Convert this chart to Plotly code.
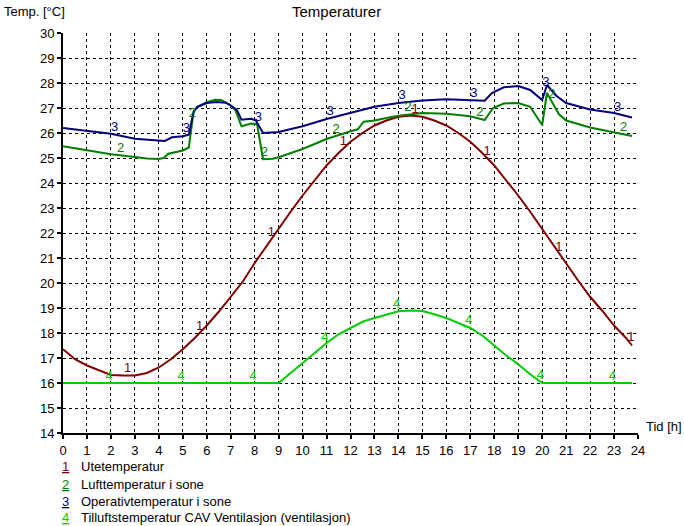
import numpy as np
import plotly.graph_objects as go

# ---------------- data ----------------
series_names = [
    "Utetemperatur",
    "Lufttemperatur i sone",
    "Operativtemperatur i sone",
    "Tilluftstemperatur CAV Ventilasjon (ventilasjon)",
]
series_ids = ["1", "2", "3", "4"]

t1 = [0, 0.5, 1, 1.5, 2, 2.5, 3, 3.5, 4, 4.5, 5, 5.5, 6, 6.5, 7, 7.5, 8, 8.5, 9, 9.5,
      10, 10.5, 11, 11.5, 12, 12.5, 13, 13.5, 14, 14.5, 15, 15.5, 16, 16.5, 17, 17.5,
      18, 18.5, 19, 19.5, 20, 20.5, 21, 21.5, 22, 22.5, 23, 23.5, 23.75]
ute = [17.35, 16.95, 16.7, 16.5, 16.32, 16.3, 16.3, 16.4, 16.62, 16.95, 17.35, 17.8,
       18.3, 18.85, 19.45, 20.05, 20.8, 21.5, 22.15, 22.85, 23.5, 24.1, 24.7, 25.2,
       25.65, 26.0, 26.3, 26.5, 26.65, 26.7, 26.65, 26.5, 26.3, 26.0, 25.65, 25.2,
       24.7, 24.1, 23.5, 22.85, 22.15, 21.45, 20.75, 20.1, 19.45, 18.9, 18.3, 17.8, 17.5]

t2 = [0, 1, 2, 3, 3.5, 4, 4.2, 4.4, 5, 5.25, 5.45, 5.6, 6, 6.35, 6.6, 7, 7.2, 7.45,
      7.85, 8.1, 8.35, 8.75, 9, 10, 11, 12, 12.3, 12.55, 13, 13.5, 14, 15, 16, 17,
      17.6, 17.95, 18.4, 19, 19.5, 20, 20.2, 20.7, 21, 22, 23, 23.75]
luft = [25.47, 25.3, 25.15, 25.04, 24.98, 24.96, 25.0, 25.17, 25.3, 25.42, 26.85,
        27.05, 27.23, 27.33, 27.32, 27.1, 26.9, 26.27, 26.38, 26.35, 24.95, 24.97,
        25.03, 25.36, 25.76, 26.07, 26.15, 26.45, 26.5, 26.6, 26.69, 26.8, 26.77,
        26.67, 26.52, 27.0, 27.18, 27.2, 27.05, 26.32, 27.6, 26.75, 26.5, 26.22,
        26.04, 25.88]

t3 = [0, 1, 2, 3, 4, 4.25, 4.55, 5, 5.25, 5.45, 5.6, 6, 6.4, 6.8, 7, 7.25, 7.45,
      7.85, 8.05, 8.35, 9, 10, 11, 12, 12.3, 13, 14, 15, 16, 17, 17.6, 17.9, 18.4,
      19, 19.5, 20, 20.2, 20.6, 21, 22, 23, 23.75]
oper = [26.2, 26.1, 25.97, 25.77, 25.68, 25.68, 25.83, 25.87, 25.93, 26.84, 27.04,
        27.2, 27.24, 27.21, 27.1, 26.93, 26.53, 26.57, 26.5, 26.0, 26.04, 26.27,
        26.56, 26.8, 26.9, 27.05, 27.2, 27.3, 27.35, 27.33, 27.29, 27.6, 27.83,
        27.88, 27.72, 27.32, 27.92, 27.48, 27.2, 26.94, 26.8, 26.62]

t4 = [0, 9, 9.5, 10, 10.5, 11, 11.5, 12, 12.5, 13, 13.5, 14, 14.5, 15, 15.5, 16,
      16.5, 17, 17.5, 18, 18.5, 19, 19.5, 20, 23.75]
tilluft = [16.0, 16.0, 16.4, 16.8, 17.2, 17.6, 17.95, 18.2, 18.45, 18.6, 18.75,
           18.87, 18.9, 18.88, 18.75, 18.6, 18.4, 18.2, 17.9, 17.5, 17.1, 16.75,
           16.35, 16.0, 16.0]

x_ticks = list(range(0, 25))
y_ticks = list(range(14, 31))

# ---------------- style ----------------
colors = ["#800000", "#008000", "#000080", "#00CC00"]
label_start = [2.7, 2.4, 2.15, 1.93]   # hour of first in-line label per series
FONT = "Liberation Sans, Arial, sans-serif"

series = [(t1, ute), (t2, luft), (t3, oper), (t4, tilluft)]

fig = go.Figure()
for (tx, ty), c in zip(series, colors):
    fig.add_trace(go.Scatter(x=tx, y=ty, mode="lines",
                             line=dict(color=c, width=2), showlegend=False,
                             hoverinfo="skip"))

# in-line series number labels every 3 hours
for (tx, ty), c, sid, s0 in zip(series, colors, series_ids, label_start):
    lx = np.arange(s0, 24, 3.0)
    ly = np.interp(lx, tx, ty)
    fig.add_trace(go.Scatter(x=lx, y=ly, mode="text", text=[sid] * len(lx),
                             textposition="top center",
                             textfont=dict(color=c, size=13, family=FONT),
                             showlegend=False, hoverinfo="skip"))

# plot area spans 575 x 400 px, starting at (63, 33)
PW, PH = 575.0, 400.0
ann = []
ann.append(dict(text="Temperaturer", xref="paper", yref="paper", x=(336 - 63) / PW,
                y=(433 - 11) / PH, xanchor="center", yanchor="middle", showarrow=False,
                font=dict(size=15, color="black", family=FONT)))
ann.append(dict(text="Temp. [°C]", xref="paper", yref="paper", x=(2 - 63) / PW,
                y=(433 - 11) / PH, xanchor="left", yanchor="middle", showarrow=False,
                font=dict(size=13, color="black", family=FONT)))
ann.append(dict(text="Tid [h]", xref="paper", yref="paper", x=(644 - 63) / PW,
                y=(433 - 426) / PH, xanchor="left", yanchor="middle", showarrow=False,
                font=dict(size=13, color="black", family=FONT)))

row_y = [466, 484, 501, 517]
for sid, name, c, py in zip(series_ids, series_names, colors, row_y):
    yp = (433 - py) / PH
    ann.append(dict(text="<u>" + sid + "</u>", xref="paper", yref="paper",
                    x=(65 - 63) / PW, y=yp, xanchor="center", yanchor="middle",
                    showarrow=False, font=dict(size=13, color=c, family=FONT)))
    ann.append(dict(text=name, xref="paper", yref="paper",
                    x=(79 - 63) / PW, y=yp, xanchor="left", yanchor="middle",
                    showarrow=False, font=dict(size=13, color="#000", family=FONT)))

fig.update_layout(
    width=684, height=526,
    margin=dict(l=63, r=46, t=33, b=93, pad=0),
    paper_bgcolor="white", plot_bgcolor="white",
    font=dict(family=FONT, size=12, color="black"),
    annotations=ann,
    showlegend=False,
)
fig.update_xaxes(range=[0, 24], tickvals=x_ticks, ticktext=[str(v) for v in x_ticks],
                 showgrid=True, gridcolor="black", gridwidth=1, griddash="3px,3px",
                 showline=True, linecolor="black", linewidth=2,
                 ticks="outside", ticklen=4, tickwidth=2, tickcolor="black",
                 tickfont=dict(size=13),
                 zeroline=False, fixedrange=True)
fig.update_yaxes(range=[14, 30], tickvals=y_ticks, ticktext=[str(v) for v in y_ticks],
                 showgrid=True, gridcolor="black", gridwidth=1, griddash="3px,3px",
                 showline=True, linecolor="black", linewidth=2,
                 ticks="outside", ticklen=4, tickwidth=2, tickcolor="black",
                 tickfont=dict(size=13),
                 zeroline=False, fixedrange=True)

# remove the default page margin so the figure sits at the window's top-left corner
fig.write_html("out.html", config={"displayModeBar": False},
               post_script="document.body.style.margin='0';document.body.style.overflow='hidden';")
